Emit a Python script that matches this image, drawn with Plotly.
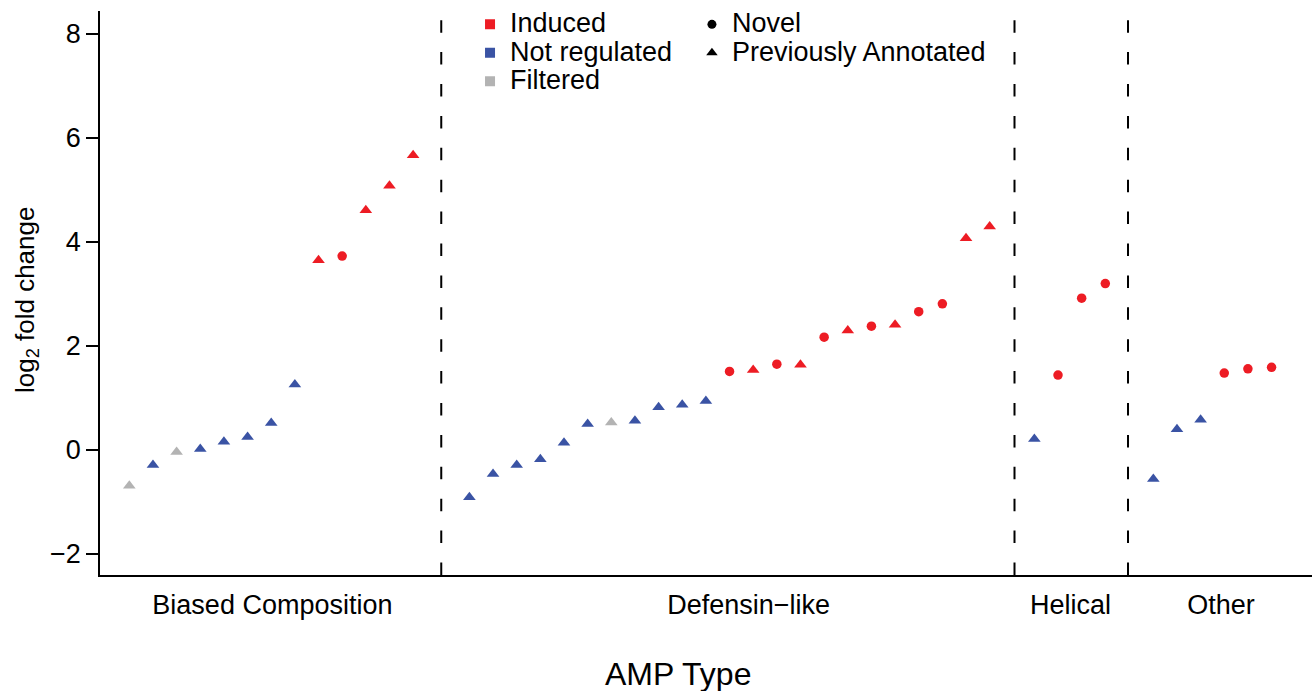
import plotly.graph_objects as go

# ---------------- data ----------------
groups = ["Biased Composition", "Defensin\u2212like", "Helical", "Other"]

biased_vals = [-0.69, -0.29, -0.04, 0.02, 0.16, 0.25, 0.52, 1.26, 3.65, 3.73, 4.61, 5.08, 5.67]
biased_status = ["F", "N", "F", "N", "N", "N", "N", "N", "I", "I", "I", "I", "I"]
biased_novel = [0, 0, 0, 0, 0, 0, 0, 0, 0, 1, 0, 0, 0]

defensin_vals = [-0.91, -0.46, -0.29, -0.18, 0.14, 0.50, 0.53, 0.56, 0.82, 0.87, 0.94,
                 1.51, 1.54, 1.65, 1.64, 2.17, 2.30, 2.38, 2.41, 2.66, 2.81, 4.07, 4.30]
defensin_status = ["N", "N", "N", "N", "N", "N", "F", "N", "N", "N", "N",
                   "I", "I", "I", "I", "I", "I", "I", "I", "I", "I", "I", "I"]
defensin_novel = [0, 0, 0, 0, 0, 0, 0, 0, 0, 0, 0,
                  1, 0, 1, 0, 1, 0, 1, 0, 1, 1, 0, 0]

helical_vals = [0.21, 1.44, 2.92, 3.20]
helical_status = ["N", "I", "I", "I"]
helical_novel = [0, 1, 1, 1]

other_vals = [-0.56, 0.40, 0.58, 1.48, 1.56, 1.59]
other_status = ["N", "N", "N", "I", "I", "I"]
other_novel = [0, 0, 0, 1, 1, 1]

y_ticks = [-2, 0, 2, 4, 6, 8]
y_ticktext = ["\u22122", "0", "2", "4", "6", "8"]

# ---------------- styling / layout constants ----------------
RED, BLUE, GRAY = "#ED1C24", "#3A53A4", "#B3B3B3"
status_color = {"I": RED, "N": BLUE, "F": GRAY}
FONT = "Liberation Sans, Arial, Helvetica, sans-serif"

group_gaps = [2.38, 1.89, 2.03]          # spacing between groups (in point steps)
divider_offsets = [1.19, 1.05, 0.96]     # divider position after last point of group
label_pos = [6.05, 26.19, 39.80, 46.16]  # group label centres

all_vals = [biased_vals, defensin_vals, helical_vals, other_vals]
all_status = [biased_status, defensin_status, helical_status, other_status]
all_novel = [biased_novel, defensin_novel, helical_novel, other_novel]

xs, ys, cols, syms, sizes = [], [], [], [], []
dividers = []
start = 0.0
for gi, (vals, st, nv) in enumerate(zip(all_vals, all_status, all_novel)):
    for k, (v, s, n) in enumerate(zip(vals, st, nv)):
        xs.append(start + k)
        ys.append(v)
        cols.append(status_color[s])
        syms.append("circle" if n else "triangle-up")
        sizes.append(9.5 if n else 11)
    last = start + len(vals) - 1
    if gi < len(group_gaps):
        dividers.append(last + divider_offsets[gi])
        start = last + group_gaps[gi]

fig = go.Figure()
fig.add_trace(go.Scatter(
    x=xs, y=ys, mode="markers", showlegend=False,
    marker=dict(color=cols, symbol=syms, size=sizes, opacity=1, line=dict(width=0)),
    hoverinfo="skip",
))

def lname(t):
    return '<span style="font-size:27px">' + t + '</span>'

for name, c in [("Induced", RED), ("Not regulated", BLUE), ("Filtered", GRAY)]:
    fig.add_trace(go.Scatter(x=[None], y=[None], mode="markers", name=lname(name),
                             marker=dict(symbol="square", size=10, color=c, opacity=1),
                             legend="legend"))
for name, s, sz in [("Novel", "circle", 9), ("Previously Annotated", "triangle-up", 10)]:
    fig.add_trace(go.Scatter(x=[None], y=[None], mode="markers", name=lname(name),
                             marker=dict(symbol=s, size=sz, color="black", opacity=1),
                             legend="legend2"))

shapes = [dict(type="line", xref="x", yref="paper", x0=d, x1=d, y0=0, y1=1,
               line=dict(color="black", width=2, dash="12.5px,19.4px")) for d in dividers]

fig.update_layout(
    width=1312, height=691,
    margin=dict(l=100, r=0, t=11, b=116),
    paper_bgcolor="white", plot_bgcolor="white",
    font=dict(family=FONT, color="black"),
    shapes=shapes,
    xaxis=dict(range=[-1.24, 50.01], showline=True, linecolor="black", linewidth=1.5,
               showgrid=False, zeroline=False, ticks="", tickvals=label_pos, ticktext=groups,
               tickfont=dict(size=27, family=FONT, color="black"), ticklabelstandoff=5),
    yaxis=dict(range=[-2.404, 8.442], showline=True, linecolor="black", linewidth=1.5,
               showgrid=False, zeroline=False, ticks="outside", ticklen=12, tickwidth=1.5,
               tickcolor="black", tickvals=y_ticks, ticktext=y_ticktext,
               tickfont=dict(size=27, family=FONT, color="black")),
    legend=dict(x=0.3053, y=1.0104, xanchor="left", yanchor="top", bgcolor="rgba(0,0,0,0)",
                font=dict(size=19.6, family=FONT, color="black"), traceorder="normal"),
    legend2=dict(x=0.4884, y=1.0104, xanchor="left", yanchor="top", bgcolor="rgba(0,0,0,0)",
                 font=dict(size=19.6, family=FONT, color="black"), traceorder="normal"),
    annotations=[
        dict(text="log<sub>2</sub> fold change", textangle=-90, xref="paper", yref="paper",
             x=-0.0602, y=0.4876, xanchor="center", yanchor="middle", showarrow=False,
             font=dict(size=26, family=FONT, color="black")),
        dict(text="AMP Type", xref="paper", yref="paper", x=0.477, y=-0.1755,
             xanchor="center", yanchor="middle", showarrow=False,
             font=dict(size=32, family=FONT, color="black")),
    ],
)

fig.write_html("out.html")
